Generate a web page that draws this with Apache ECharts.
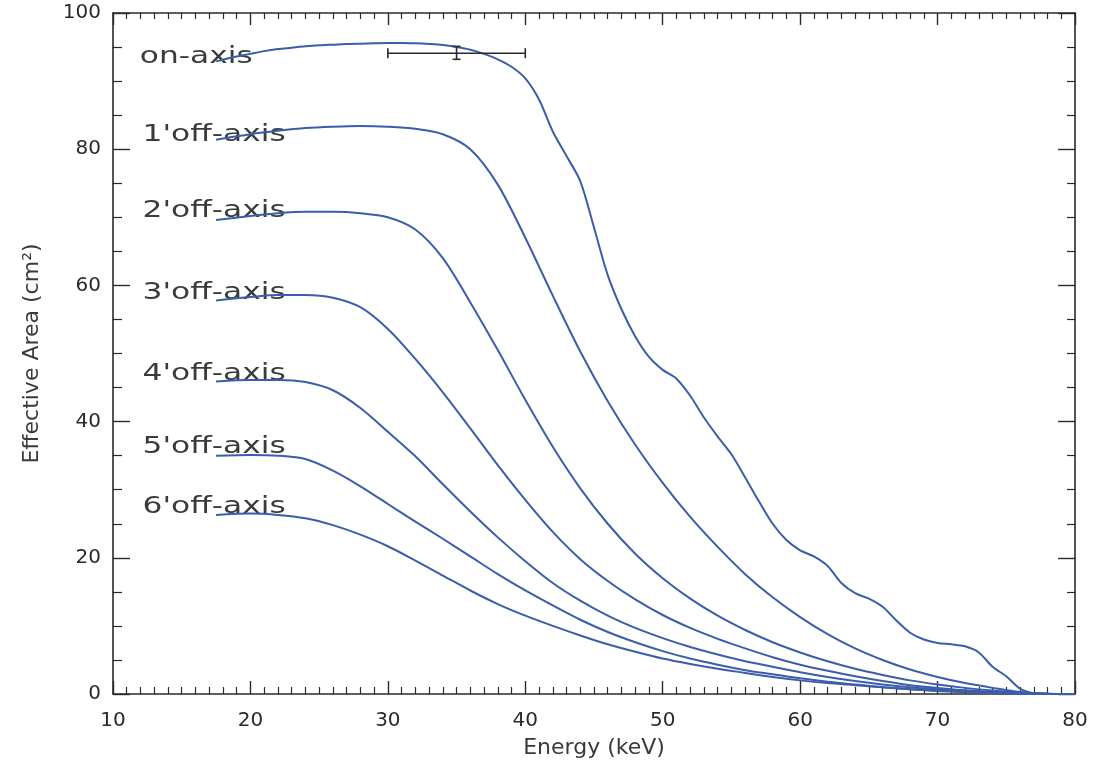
<!DOCTYPE html>
<html>
<head>
<meta charset="utf-8">
<script src="https://cdn.jsdelivr.net/npm/echarts@6/dist/echarts.min.js"></script>
<style>html,body{margin:0;padding:0;background:#fff;}#c{width:1098px;height:769px;}</style>
</head>
<body>
<div id="c"></div>
<script>
// Energy grids (keV)
const energyOn = [17.5,19,20,21,22,23,24,25,26,27,28,29,30,31,32,33,34,35,36,37,38,39,40,41,42,43,44,45,46,47,48,49,50,51,52,53,54,55,56,57,58,59,60,61,62,63,64,65,66,67,68,69,70,71,72,73,74,75,76,77,78,79,80];
const energyOff = [17.5,20,22,24,26,28,30,32,34,36,38,40,42,44,46,48,50,52,54,56,58,60,62,64,66,68,70,72,74,76,78,80];

// Effective area (cm^2)
const onAxis = [92.9,93.6,94.0,94.4,94.7,94.9,95.1,95.25,95.35,95.45,95.5,95.55,95.6,95.6,95.55,95.45,95.3,95.0,94.6,94.0,93.2,92.1,90.4,87.3,82.6,79.0,75.3,68.5,61.5,56.5,52.5,49.5,47.6,46.3,43.8,40.6,37.8,35.2,31.8,28.3,25.0,22.6,21.1,20.2,18.8,16.3,14.8,14.0,12.8,10.8,9.0,8.0,7.5,7.3,7.0,6.1,4.0,2.6,0.8,0.1,0,0,0];
const offAxis1 = [81.4,82.2,82.7,83.1,83.3,83.4,83.3,83.0,82.2,80.0,74.8,67.0,58.5,50.3,43.0,36.6,31.0,26.0,21.6,17.6,14.2,11.3,8.8,6.7,5.0,3.6,2.5,1.6,0.9,0.3,0.05,0];
const offAxis2 = [69.6,70.2,70.6,70.8,70.8,70.6,70.0,68.2,64.0,57.5,50.5,43.2,36.3,30.2,25.0,20.6,17.0,14.0,11.5,9.4,7.6,6.1,4.8,3.7,2.8,2.0,1.4,0.9,0.5,0.2,0.05,0];
const offAxis3 = [57.8,58.3,58.6,58.6,58.2,56.8,53.6,49.2,44.3,39.0,33.6,28.5,23.8,19.8,16.6,13.9,11.6,9.7,8.1,6.7,5.4,4.3,3.4,2.6,1.9,1.3,0.9,0.55,0.3,0.1,0.02,0];
const offAxis4 = [45.9,46.1,46.1,45.8,44.6,42.0,38.5,34.9,30.8,26.8,23.0,19.5,16.3,13.7,11.5,9.7,8.2,6.9,5.8,4.8,4.0,3.2,2.5,1.9,1.4,1.0,0.7,0.45,0.25,0.1,0.02,0];
const offAxis5 = [35.0,35.1,35.0,34.5,32.8,30.5,27.9,25.3,22.8,20.2,17.6,15.2,13.0,10.9,9.1,7.6,6.3,5.2,4.3,3.5,2.9,2.3,1.8,1.4,1.0,0.7,0.5,0.3,0.15,0.05,0,0];
const offAxis6 = [26.3,26.5,26.3,25.8,24.8,23.4,21.7,19.6,17.4,15.2,13.2,11.5,10.0,8.6,7.3,6.2,5.2,4.4,3.7,3.1,2.5,2.0,1.6,1.3,1.0,0.7,0.45,0.3,0.15,0.05,0,0];

// Curve labels and their anchor (energy, area)
const curveNames = ["on-axis","1'off-axis","2'off-axis","3'off-axis","4'off-axis","5'off-axis","6'off-axis"];
const labelEnergy = [11.95,12.15,12.15,12.15,12.15,12.15,12.15];
const labelArea = [93.6,82.1,70.9,58.9,47.0,36.2,27.5];

// Error bar: energy range and area
const errLow = 30, errHigh = 40, errMid = 35, errArea = 94.1, errAreaLow = 93.2, errAreaHigh = 95.1;

// Axis ticks
const xTicks = [10,20,30,40,50,60,70,80];
const yTicks = [0,20,40,60,80,100];

const pairs = (xs, ys) => xs.map((x, i) => [x, ys[i]]);
const LINE = '#3b5daa';
const INK = '#2a2a2a';
const FONT = 'DejaVu Sans';

const chart = echarts.init(document.getElementById('c'), null, {renderer: 'canvas'});

const curves = [
  [energyOn, onAxis], [energyOff, offAxis1], [energyOff, offAxis2], [energyOff, offAxis3],
  [energyOff, offAxis4], [energyOff, offAxis5], [energyOff, offAxis6]
];

const series = [];
series.push({
  type: 'custom', silent: true, z: 2,
  data: curveNames.map((n, i) => [labelEnergy[i], labelArea[i], i]),
  renderItem: function (params, api) {
    const p = api.coord([api.value(0), api.value(1)]);
    return {
      type: 'text', x: p[0], y: p[1], scaleX: 1.36, scaleY: 1,
      style: {text: curveNames[api.value(2)], font: '23px "DejaVu Sans"', fill: '#3a3a3a',
              align: 'left', verticalAlign: 'middle'}
    };
  }
});
curves.forEach((c) => {
  series.push({
    type: 'line', data: pairs(c[0], c[1]), showSymbol: false, smooth: 0.3, z: 3,
    lineStyle: {color: LINE, width: 2}, silent: true
  });
});
series.push({
  type: 'custom', z: 4, silent: true,
  data: [[errLow, errHigh, errMid, errArea, errAreaLow, errAreaHigh]],
  renderItem: function (params, api) {
    const l = api.coord([api.value(0), api.value(3)]);
    const h = api.coord([api.value(1), api.value(3)]);
    const m = api.coord([api.value(2), api.value(3)]);
    const mLo = api.coord([api.value(2), api.value(4)]);
    const mHi = api.coord([api.value(2), api.value(5)]);
    const st = {stroke: INK, lineWidth: 1.6};
    const cap = 5, s = 4;
    return {type: 'group', children: [
      {type: 'line', shape: {x1: l[0], y1: l[1], x2: h[0], y2: h[1]}, style: st},
      {type: 'line', shape: {x1: l[0], y1: l[1]-cap, x2: l[0], y2: l[1]+cap}, style: st},
      {type: 'line', shape: {x1: h[0], y1: h[1]-cap, x2: h[0], y2: h[1]+cap}, style: st},
      {type: 'line', shape: {x1: m[0], y1: mHi[1], x2: m[0], y2: mLo[1]}, style: st},
      {type: 'line', shape: {x1: m[0]-s, y1: mHi[1], x2: m[0]+s, y2: mHi[1]}, style: st},
      {type: 'line', shape: {x1: m[0]-s, y1: mLo[1], x2: m[0]+s, y2: mLo[1]}, style: st}
    ]};
  }
});

const axisLine = {show: true, onZero: false, lineStyle: {color: INK, width: 1.6}};
chart.setOption({
  animation: false,
  backgroundColor: '#fff',
  grid: {left: 113, right: 23, top: 13, bottom: 75, containLabel: false},
  xAxis: [
    {type: 'value', min: xTicks[0], max: xTicks[xTicks.length-1], interval: 10, position: 'bottom',
     axisLine: axisLine,
     axisTick: {show: true, inside: true, length: 13, lineStyle: {color: INK, width: 1.4}},
     minorTick: {show: true, splitNumber: 10, length: 7, lineStyle: {color: INK, width: 1.2}},
     splitLine: {show: false},
     axisLabel: {fontFamily: FONT, fontSize: 20, color: INK, margin: 17},
     name: 'Energy (keV)', nameLocation: 'middle', nameGap: 43,
     nameTextStyle: {fontFamily: FONT, fontSize: 22, color: '#3a3a3a'}},
    {type: 'value', min: xTicks[0], max: xTicks[xTicks.length-1], interval: 10, position: 'top',
     axisLine: axisLine,
     axisTick: {show: true, inside: true, length: 12, lineStyle: {color: INK, width: 1.4}},
     minorTick: {show: true, splitNumber: 10, length: 6, lineStyle: {color: INK, width: 1.2}},
     splitLine: {show: false}, axisLabel: {show: false}}
  ],
  yAxis: [
    {type: 'value', min: yTicks[0], max: yTicks[yTicks.length-1], interval: 20, position: 'left',
     axisLine: axisLine,
     axisTick: {show: true, inside: true, length: 17, lineStyle: {color: INK, width: 1.4}},
     minorTick: {show: true, splitNumber: 4, length: 9, lineStyle: {color: INK, width: 1.2}},
     splitLine: {show: false},
     axisLabel: {fontFamily: FONT, fontSize: 20, color: INK, margin: 12},
     name: 'Effective Area (cm²)', nameLocation: 'middle', nameGap: 70, nameRotate: 90,
     nameTextStyle: {fontFamily: FONT, fontSize: 22, color: '#3a3a3a'}},
    {type: 'value', min: yTicks[0], max: yTicks[yTicks.length-1], interval: 20, position: 'right',
     axisLine: axisLine,
     axisTick: {show: true, inside: true, length: 17, lineStyle: {color: INK, width: 1.4}},
     minorTick: {show: true, splitNumber: 4, length: 8, lineStyle: {color: INK, width: 1.2}},
     splitLine: {show: false}, axisLabel: {show: false}}
  ],
  series: series
});
</script>
</body>
</html>
